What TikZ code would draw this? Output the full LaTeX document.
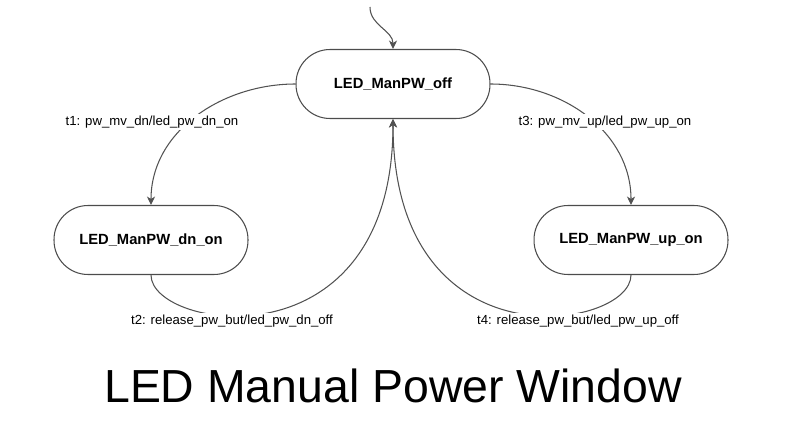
\documentclass[tikz,border=0pt]{standalone}
\usepackage{fontspec}
\setmainfont{Liberation Sans}
\usetikzlibrary{arrows,arrows.meta,positioning}
\tikzset{>={Stealth[length=4.8pt, width=4.6pt, inset=1.4pt]}}

\begin{document}
\begin{tikzpicture}[x=0.02cm, y=0.02cm,
    state/.style={draw=black!70, line width=0.6pt, rounded corners=0.68cm,
      minimum width=3.88cm, minimum height=1.38cm,
      font=\fontsize{8.4}{10}\selectfont\bfseries},
    trans/.style={->, draw=black!68, line width=0.6pt},
    tlabel/.style={fill=white, inner sep=1pt, font=\fontsize{7.5}{9}\selectfont}]
  \useasboundingbox (0,0) rectangle (797,-439);
  \node[state] (off) at (393,-84) {LED\_ManPW\_off};
  \node[state] (dn) at (151,-240) {LED\_ManPW\_dn\_on};
  \node[state] (up) at (631,-240) {LED\_ManPW\_up\_on};
  \coordinate (init) at (370,-7);
  \draw[trans] (init) to[out=-90, in=90] (off.north);
  % transitions
  \draw[trans] (off.west) to[out=180, in=90] (dn.north);
  \draw[trans] (off.east) to[out=0, in=90] (up.north);
  \draw[trans] (dn.south) .. controls +(0,-55) and +(0,-250) .. (off.south);
  \draw[trans] (up.south) .. controls +(0,-55) and +(0,-250) .. (off.south);
  \node[tlabel] (t1) at (152,-122) {t1: pw\_mv\_dn/led\_pw\_dn\_on};
  \node[tlabel] (t3) at (605,-122) {t3: pw\_mv\_up/led\_pw\_up\_on};
  \node[tlabel] (t2) at (232,-321) {t2: release\_pw\_but/led\_pw\_dn\_off};
  \node[tlabel] (t4) at (578,-321) {t4: release\_pw\_but/led\_pw\_up\_off};
  \node[font=\fontsize{26.4}{30}\selectfont, anchor=base] (title) at (393,-402) {LED Manual Power Window};
\end{tikzpicture}
\end{document}
